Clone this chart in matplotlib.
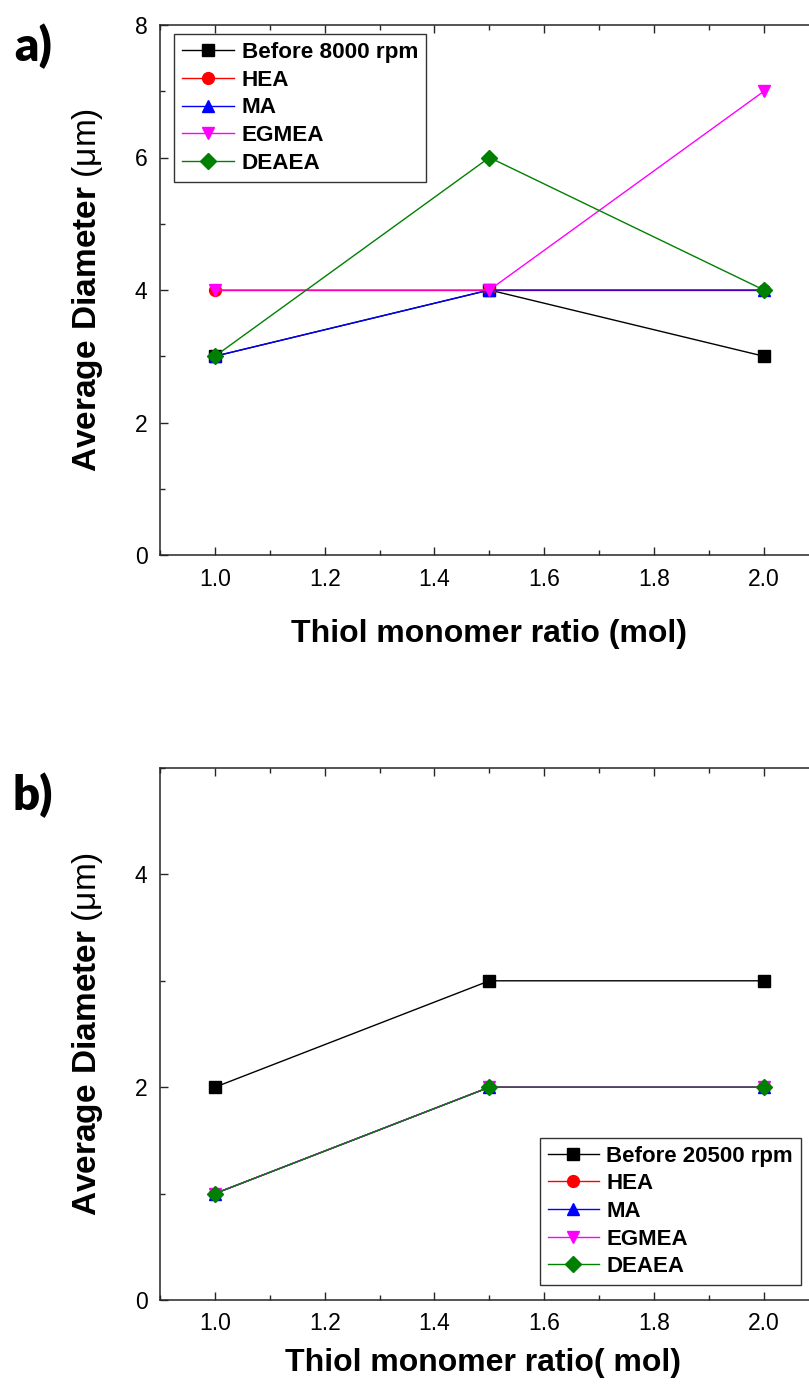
import matplotlib
matplotlib.use("Agg")
import matplotlib.pyplot as plt
from matplotlib.ticker import MultipleLocator, FormatStrFormatter

plt.rcParams["font.family"] = ["Liberation Sans", "DejaVu Sans"]
plt.rcParams["mathtext.fontset"] = "custom"
plt.rcParams["mathtext.rm"] = "Liberation Sans"
plt.rcParams["mathtext.bf"] = "Liberation Sans:bold"

# Thiol monomer ratio (mol)
ratio = [1.0, 1.5, 2.0]

# a) homogenised at 8000 rpm
a_labels = ["Before 8000 rpm", "HEA", "MA", "EGMEA", "DEAEA"]
a_before = [3, 4, 3]
a_hea = [4, 4, 4]
a_ma = [3, 4, 4]
a_egmea = [4, 4, 7]
a_deaea = [3, 6, 4]

# b) homogenised at 20500 rpm
b_labels = ["Before 20500 rpm", "HEA", "MA", "EGMEA", "DEAEA"]
b_before = [2, 3, 3]
b_hea = [1, 2, 2]
b_ma = [1, 2, 2]
b_egmea = [1, 2, 2]
b_deaea = [1, 2, 2]

colors = ["black", "#ff0000", "#0000ff", "#ff00ff", "#008000"]
markers = ["s", "o", "^", "v", "D"]
msizes = [8.5, 8.5, 9, 9, 8]

W, H = 809, 1384
fig = plt.figure(figsize=(W / 100, H / 100), dpi=100)


def axes_px(left, top, right, bottom):
    return fig.add_axes([left / W, 1 - bottom / H, (right - left) / W, (bottom - top) / H])


ax_a = axes_px(160, 25, 818.8, 555)
ax_b = axes_px(160, 768, 818.8, 1300)

spine_color = "#262626"


def style_axes(ax, ymax):
    ax.set_xlim(0.9, 2.1)
    ax.set_ylim(0, ymax)
    ax.xaxis.set_major_locator(MultipleLocator(0.2))
    ax.xaxis.set_minor_locator(MultipleLocator(0.1))
    ax.yaxis.set_major_locator(MultipleLocator(2))
    ax.yaxis.set_minor_locator(MultipleLocator(1))
    ax.xaxis.set_major_formatter(FormatStrFormatter("%.1f"))
    ax.yaxis.set_major_formatter(FormatStrFormatter("%d"))
    ax.tick_params(which="both", direction="in", top=True, right=True,
                   color=spine_color, width=1.0)
    ax.tick_params(which="major", length=6, labelsize=16.5)
    ax.tick_params(which="minor", length=3.5)
    ax.tick_params(axis="x", which="major", pad=9)
    ax.tick_params(axis="y", which="major", pad=9)
    for sp in ax.spines.values():
        sp.set_linewidth(1.1)
        sp.set_color(spine_color)
    ax.set_ylabel(r"$\mathbf{Average\ Diameter}$ (μm)", fontsize=24)
    ax.yaxis.set_label_coords(-0.083, 0.5)


def draw_series(ax, labels, series):
    for lab, ys, c, m, ms in zip(labels, series, colors, markers, msizes):
        ax.plot(ratio, ys, color=c, marker=m, markersize=ms, linewidth=1.0,
                markeredgecolor=c, label=lab)


legend_style = dict(borderaxespad=0, frameon=True, fancybox=False, edgecolor="black",
                    handlelength=2.3, handletextpad=0.35, labelspacing=0.3,
                    borderpad=0.35)

# panel a
draw_series(ax_a, a_labels, [a_before, a_hea, a_ma, a_egmea, a_deaea])
style_axes(ax_a, 8)
ax_a.set_xlabel("Thiol monomer ratio (mol)", fontsize=23, fontweight="bold")
ax_a.xaxis.set_label_coords(0.5, -0.149)
ax_a.xaxis.label.set_verticalalignment("center")
leg_a = ax_a.legend(loc="upper left", bbox_to_anchor=(14 / 658.8, 1 - 9 / 530),
                    prop={"weight": "bold", "size": 16.2}, **legend_style)
leg_a.get_frame().set_linewidth(1.0)

# panel b
draw_series(ax_b, b_labels, [b_before, b_hea, b_ma, b_egmea, b_deaea])
style_axes(ax_b, 5)
ax_b.set_xlabel("Thiol monomer ratio( mol)", fontsize=23, fontweight="bold")
ax_b.xaxis.set_label_coords(0.49, -0.118)
ax_b.xaxis.label.set_verticalalignment("center")
leg_b = ax_b.legend(loc="lower right", bbox_to_anchor=(1 - 18 / 658.8, 15 / 532),
                    prop={"weight": "bold", "size": 16}, **legend_style)
leg_b.get_frame().set_linewidth(1.0)

# panel tags
fig.text(33 / W, 1 - 46 / H, "a)", fontsize=34, fontweight="heavy",
         family=["Lato", "DejaVu Sans"], ha="center", va="center")
fig.text(33 / W, 1 - 795 / H, "b)", fontsize=34, fontweight="heavy",
         family=["Lato", "DejaVu Sans"], ha="center", va="center")

fig.savefig("out.png", dpi=100)
